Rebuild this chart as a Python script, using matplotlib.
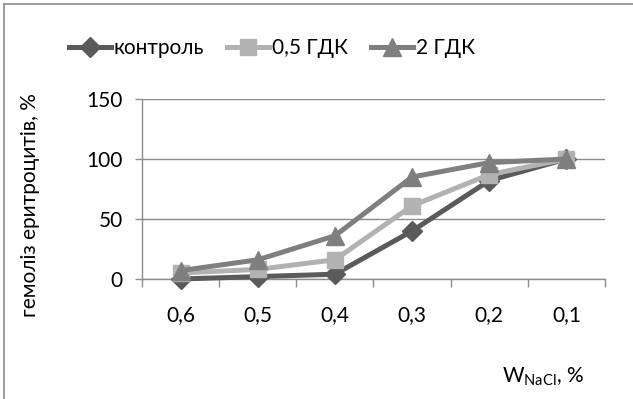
import matplotlib
matplotlib.use("Agg")
import matplotlib.pyplot as plt
from matplotlib.lines import Line2D

plt.rcParams['font.family'] = ['Lato', 'DejaVu Sans']

categories = ["0,6", "0,5", "0,4", "0,3", "0,2", "0,1"]
control = [0, 2, 4, 40, 82, 100]
gdk_05 = [5, 8, 16, 61, 87, 100]
gdk_2 = [7, 16, 36, 85, 97, 100]
series_names = ["контроль", "0,5 ГДК", "2 ГДК"]
y_ticks = [0, 50, 100, 150]

colors = ["#5a5a5a", "#b2b2b2", "#7f7f7f"]
markers = ["D", "s", "^"]
msizes = [10, 12, 13]
LW = 3.6
FS = 15

fig = plt.figure(figsize=(6.33, 3.99), dpi=100)
ax = fig.add_axes([142 / 633, 1 - 279 / 399, (605 - 142) / 633, (279 - 99) / 399])

x = list(range(len(categories)))
for vals, name, c, m, ms in zip([control, gdk_05, gdk_2], series_names, colors, markers, msizes):
    ax.plot(x, vals, color=c, lw=LW, marker=m, ms=ms, mec=c, mfc=c, label=name,
            solid_joinstyle="round", clip_on=False, zorder=3)

ax.set_xlim(-0.5, len(categories) - 0.5)
ax.set_ylim(0, 150)
ax.set_yticks(y_ticks)
ax.set_yticklabels([str(v) for v in y_ticks])
ax.set_xticks(x)
ax.set_xticklabels(categories)
ax.set_xticks([i - 0.5 for i in range(len(categories) + 1)], minor=True)

ax.grid(axis="y", color="#8c8c8c", lw=1.0)
ax.set_axisbelow(True)
for side in ("top", "right"):
    ax.spines[side].set_visible(False)
for side in ("left", "bottom"):
    ax.spines[side].set_color("#8c8c8c")
    ax.spines[side].set_linewidth(1.0)

ax.tick_params(axis="x", which="major", length=0, pad=19, labelsize=FS, colors="black")
ax.tick_params(axis="x", which="minor", length=6, width=1.0, color="#8c8c8c", direction="out")
ax.tick_params(axis="y", which="major", length=5, width=1.0, color="#8c8c8c", pad=9,
               labelsize=FS, labelcolor="black")

fig.text(30 / 633, 1 - 205 / 399, "гемоліз еритроцитів, %", rotation=90,
         ha="center", va="center", fontsize=FS)
fig.text(584 / 633, 1 - 377 / 399, r"W$_{\mathregular{NaCl}}$, %", ha="right",
         va="center", fontsize=FS)

handles = [Line2D([0], [0], color=c, lw=LW, marker=m, ms=ms, mec=c, mfc=c)
           for c, m, ms in zip(colors, markers, msizes)]
fig.legend(handles, series_names, loc="center", bbox_to_anchor=(272 / 633, 1 - 48 / 399),
           ncol=3, frameon=False, fontsize=FS, handlelength=2.0, handletextpad=0.15,
           columnspacing=1.1)

# outer frame lines of the chart area
fig.add_artist(Line2D([4 / 633, 1], [1 - 4 / 399, 1 - 4 / 399], transform=fig.transFigure,
                      color="#8c8c8c", lw=1.2))
fig.add_artist(Line2D([4 / 633, 4 / 633], [0, 1 - 4 / 399], transform=fig.transFigure,
                      color="#8c8c8c", lw=1.2))

fig.savefig("out.png", dpi=100)
